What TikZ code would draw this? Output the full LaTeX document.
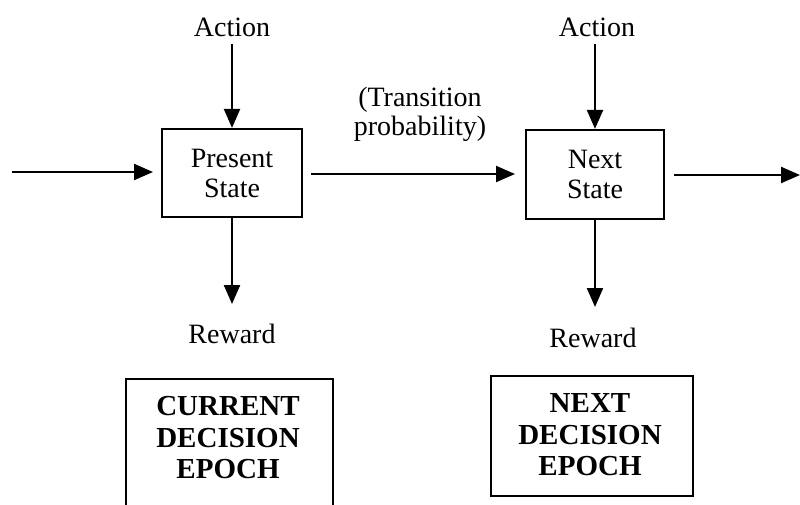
\documentclass[tikz,border=0pt]{standalone}
\usepackage{fontspec}
\setmainfont{Liberation Serif}
\usetikzlibrary{arrows.meta}
\begin{document}
\begin{tikzpicture}[x=1pt,y=-1pt,
  line width=2.2pt,
  flow/.style={-{Triangle[length=19pt,width=16pt]}},
  statebox/.style={draw,rectangle,inner sep=0pt,align=center,
    font=\fontsize{28}{30}\selectfont},
  framebox/.style={draw,rectangle,inner sep=0pt},
  epochtext/.style={inner sep=0pt,align=center,
    font=\fontsize{29}{31.5}\selectfont\bfseries},
  lbl/.style={inner sep=0pt,align=center,font=\fontsize{28}{29}\selectfont}]
\clip (0,0) rectangle (800,504);
\fill[white] (0,0) rectangle (800,504);

% decision-epoch states
\node[statebox,minimum width=140pt,minimum height=88pt] (ps) at (232,173) {Present\\State};
\node[statebox,minimum width=138pt,minimum height=89pt] (ns) at (595,174.5) {Next\\State};

% action inputs
\node[lbl] (a1) at (232,27) {Action};
\node[lbl] (a2) at (597,27) {Action};

% reward outputs
\node[lbl] (r1) at (232,334) {Reward};
\node[lbl] (r2) at (593,338) {Reward};
\coordinate (r1t) at (232,304);
\coordinate (r2t) at (595,307);

% transition label
\node[lbl] (tp) at (420,114) {(Transition\\probability)};

% chain entry and exit
\coordinate (in) at (12,172);
\coordinate (inend) at (153,172);
\coordinate (mid) at (515,174);
\coordinate (out) at (800,175);

\draw[flow] (in) -- (inend);
\draw[flow] (ps.east |- mid) ++(8,0) -- (mid);
\draw[flow] (ns.east |- out) ++(9,0) -- (out);

\draw[flow] (ps.north |- a1.south) ++(0,6) -- (ps.north);
\draw[flow] (ns.north |- a2.south) ++(0,6) -- (ns.north);
\draw[flow] (ps.south) -- (r1t);
\draw[flow] (ns.south) -- (r2t);

% epoch boxes
\node[framebox,minimum width=207pt,minimum height=150pt,anchor=north west] (ce) at (125,378) {};
\node[epochtext] (cet) at (228,438) {CURRENT\\DECISION\\EPOCH};
\node[framebox,minimum width=202pt,minimum height=120pt,anchor=north west] (ne) at (490,375) {};
\node[epochtext] (net) at (590,435) {NEXT\\DECISION\\EPOCH};
\end{tikzpicture}
\end{document}
